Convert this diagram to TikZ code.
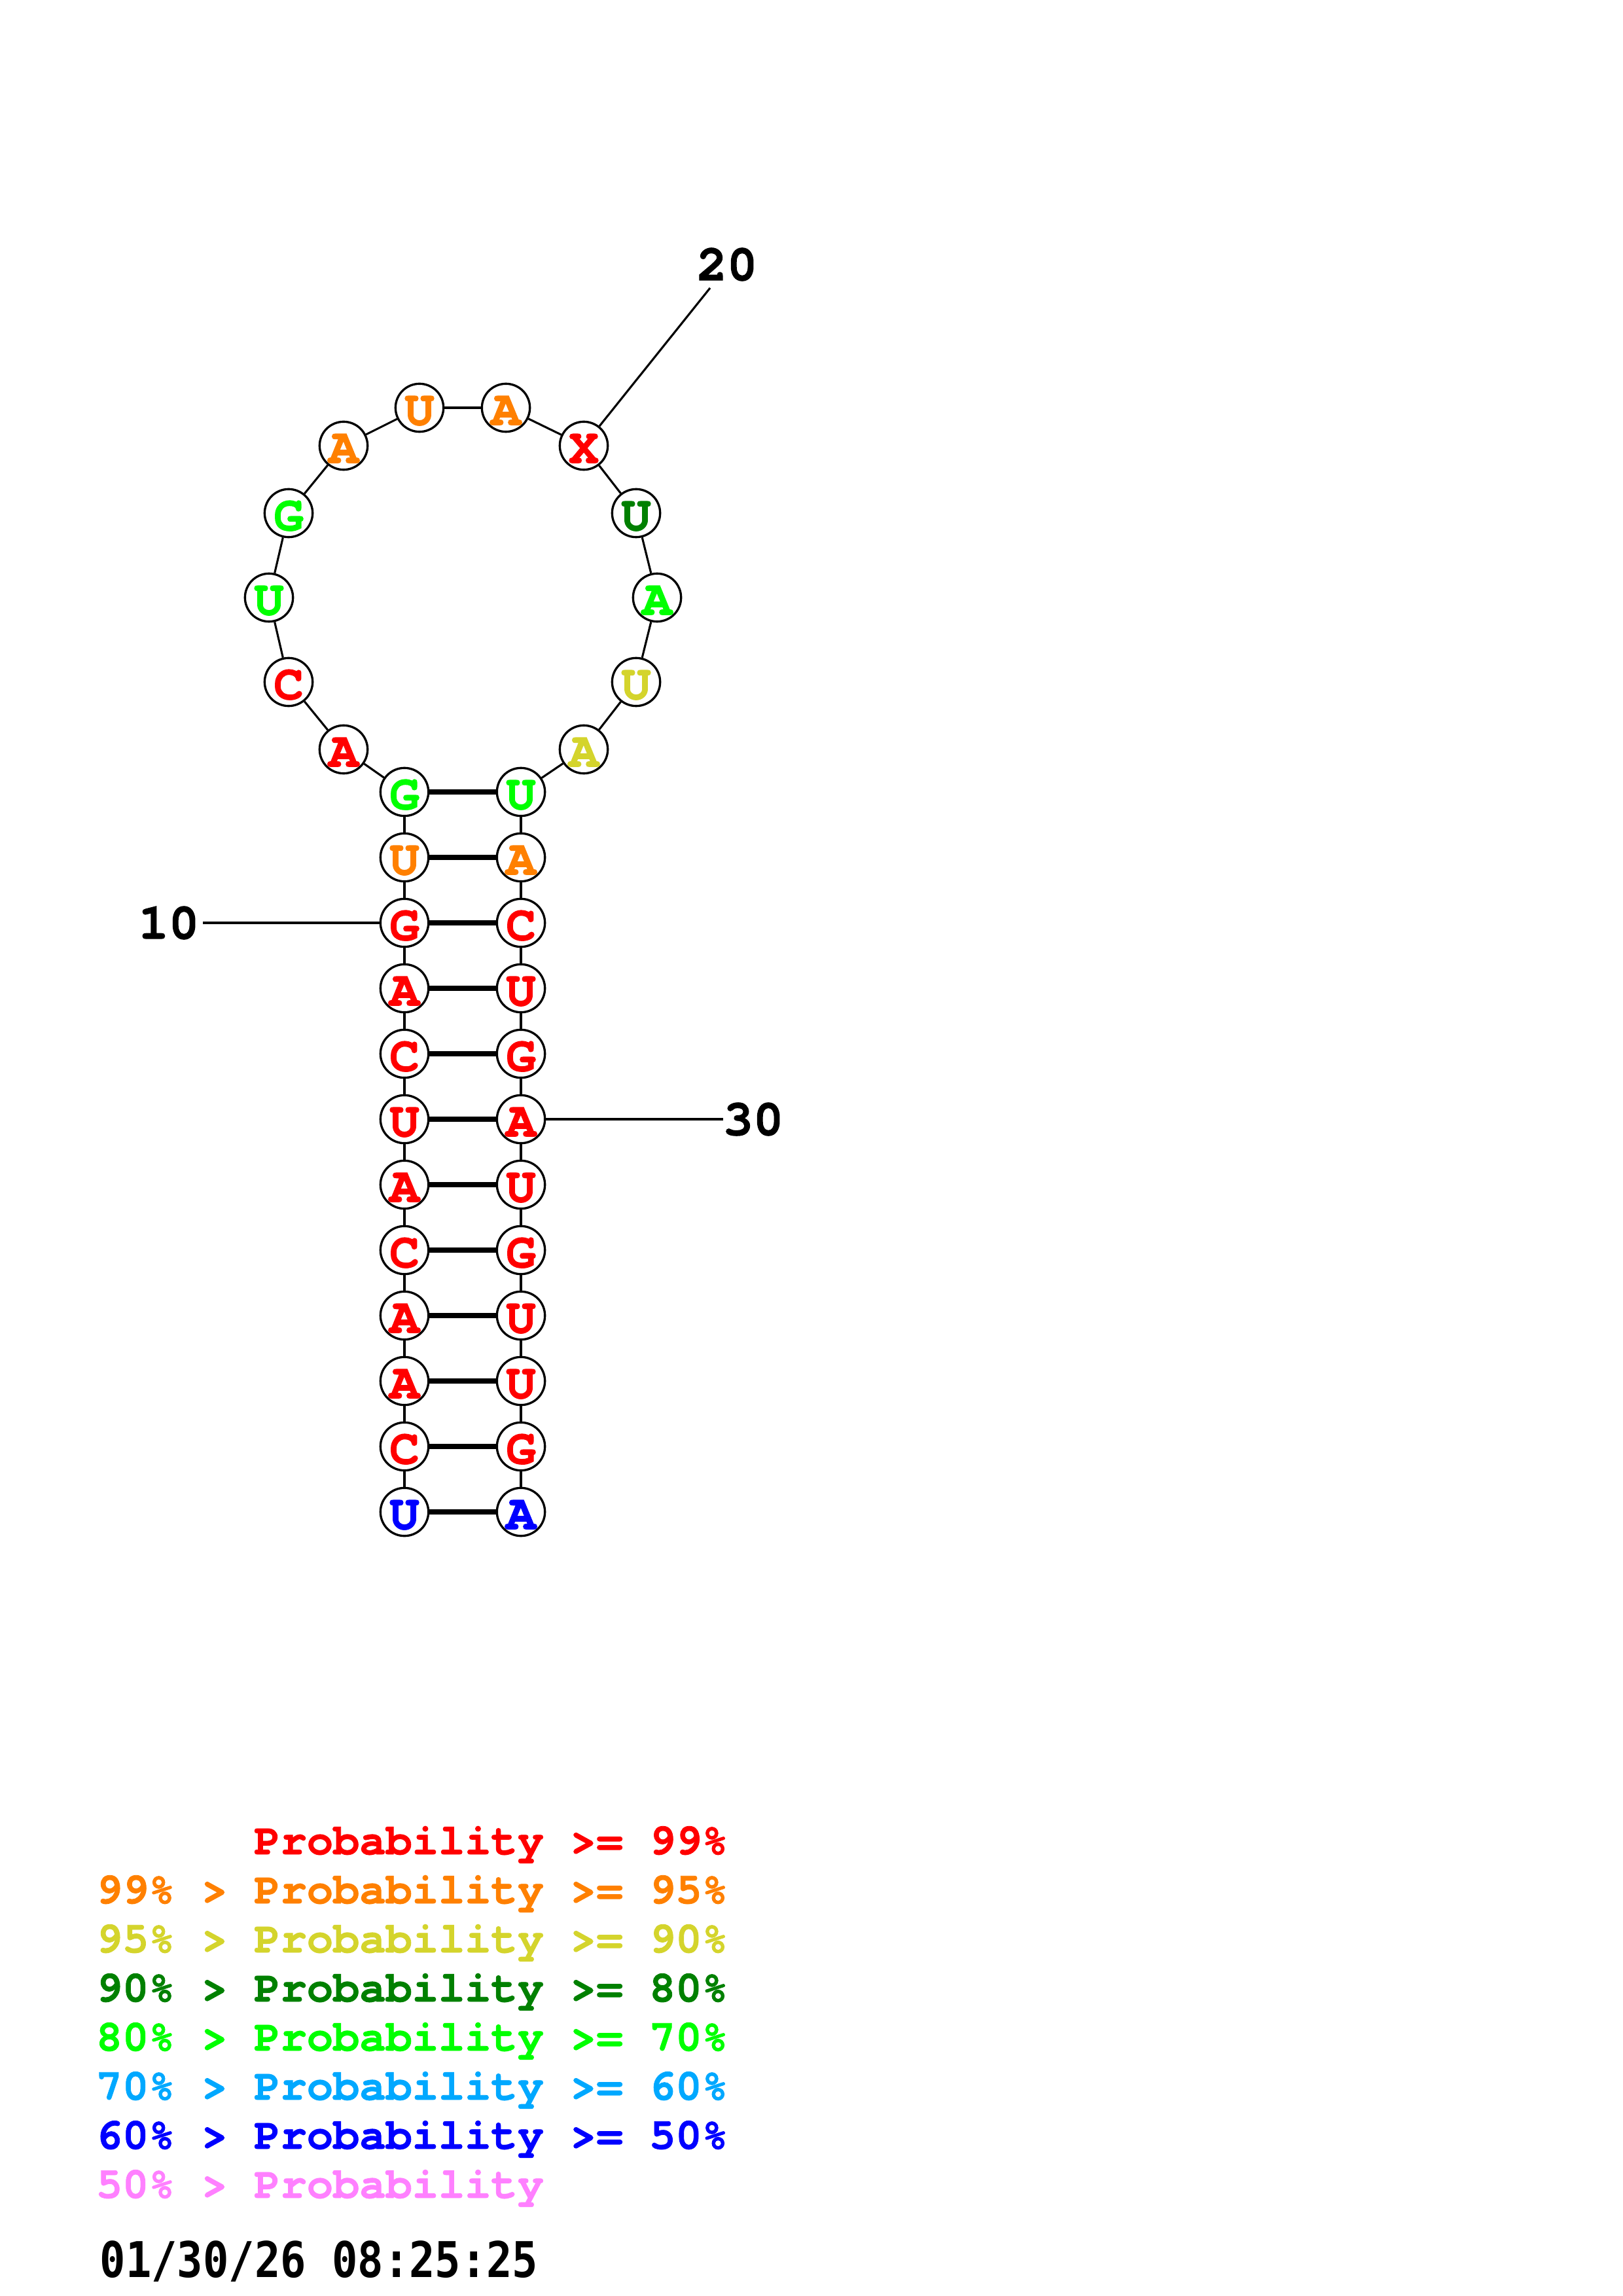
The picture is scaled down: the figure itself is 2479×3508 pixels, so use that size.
\documentclass[tikz,border=0pt]{standalone}
\usepackage{fontspec}
\newfontfamily\courb{texgyrecursor-bold.otf}[FakeBold=1.6]
\newfontfamily\courl{texgyrecursor-bold.otf}[FakeBold=1.2]
\newfontfamily\dejamono{DejaVu Sans Mono}
\definecolor{cR}{RGB}{255,0,0}
\definecolor{cO}{RGB}{255,128,0}
\definecolor{cY}{RGB}{212,212,44}
\definecolor{cD}{RGB}{0,128,0}
\definecolor{cG}{RGB}{0,255,0}
\definecolor{cL}{RGB}{0,168,255}
\definecolor{cB}{RGB}{0,0,255}
\definecolor{cP}{RGB}{255,128,255}
\tikzset{
  nt/.style={circle, draw=black, line width=0.8pt, fill=white, minimum size=17.6pt,
    inner sep=0pt, font=\fontsize{18.2pt}{18.2pt}\selectfont\courb,
    text height=12.6pt, text depth=0pt},
  bb/.style={line width=0.75pt},
  bp/.style={line width=2.1pt},
  numlab/.style={inner sep=0pt, font=\fontsize{18.5pt}{18.5pt}\selectfont\courb},
  leg/.style={anchor=base west, inner sep=0pt, font=\fontsize{16.1pt}{16.1pt}\selectfont\courl},
  datestyle/.style={anchor=base west, inner sep=0pt, font=\fontsize{15.7pt}{15.7pt}\selectfont\dejamono\bfseries},
}
\begin{document}
\begin{tikzpicture}[x=0.24pt,y=-0.24pt]
\path[use as bounding box] (0,0) rectangle (2479,3508);
% nucleotides
\foreach \i/\x/\y/\b/\c in {
  1/618/2310/U/cB, 2/618/2210/C/cR, 3/618/2110/A/cR, 4/618/2010/A/cR,
  5/618/1910/C/cR, 6/618/1810/A/cR, 7/618/1710/U/cR, 8/618/1610/C/cR,
  9/618/1510/A/cR, 10/618/1410/G/cR, 11/618/1310/U/cO, 12/618/1210/G/cG,
  13/525/1145/A/cR, 14/441/1042/C/cR, 15/411/913/U/cG, 16/441/784/G/cG,
  17/525/681/A/cO, 18/641/623/U/cO, 19/773/623/A/cO, 20/892/681/X/cR,
  21/972/784/U/cD, 22/1004/913/A/cG, 23/972/1042/U/cY, 24/892/1145/A/cY,
  25/796/1210/U/cG, 26/796/1310/A/cO, 27/796/1410/C/cR, 28/796/1510/U/cR,
  29/796/1610/G/cR, 30/796/1710/A/cR, 31/796/1810/U/cR, 32/796/1910/G/cR,
  33/796/2010/U/cR, 34/796/2110/U/cR, 35/796/2210/G/cR, 36/796/2310/A/cB}
  \node[nt, text=\c] (n\i) at (\x,\y) {\b};
% backbone
\foreach \i [evaluate=\i as \j using int(\i+1)] in {1,...,35}
  \draw[bb] (n\i) -- (n\j);
% pairs
\foreach \i [evaluate=\i as \j using int(37-\i)] in {1,...,12}
  \draw[bp] (n\i) -- (n\j);
% number labels
\node[numlab] (lab10) at (258,1410) {10};
\node[numlab] (lab20) at (1111,404) {20};
\node[numlab] (lab30) at (1151,1710) {30};
\coordinate (e10) at (310,1410);
\coordinate (e20) at (1085,440);
\coordinate (e30) at (1105,1710);
\draw[bb] (e10) -- (n10);
\draw[bb] (e20) -- (n20);
\draw[bb] (e30) -- (n30);
% legend
\node[leg, text=cR] (g0) at (146,2833) {\phantom{99\% > }Probability >= 99\%};
\node[leg, text=cO] (g1) at (146,2908) {99\% > Probability >= 95\%};
\node[leg, text=cY] (g2) at (146,2983) {95\% > Probability >= 90\%};
\node[leg, text=cD] (g3) at (146,3058) {90\% > Probability >= 80\%};
\node[leg, text=cG] (g4) at (146,3133) {80\% > Probability >= 70\%};
\node[leg, text=cL] (g5) at (146,3208) {70\% > Probability >= 60\%};
\node[leg, text=cB] (g6) at (146,3283) {60\% > Probability >= 50\%};
\node[leg, text=cP] (g7) at (146,3358) {50\% > Probability};
\node[datestyle] (date) at (152,3479) {\scalebox{1}[1.15]{01/30/26 08:25:25}};
\end{tikzpicture}
\end{document}
